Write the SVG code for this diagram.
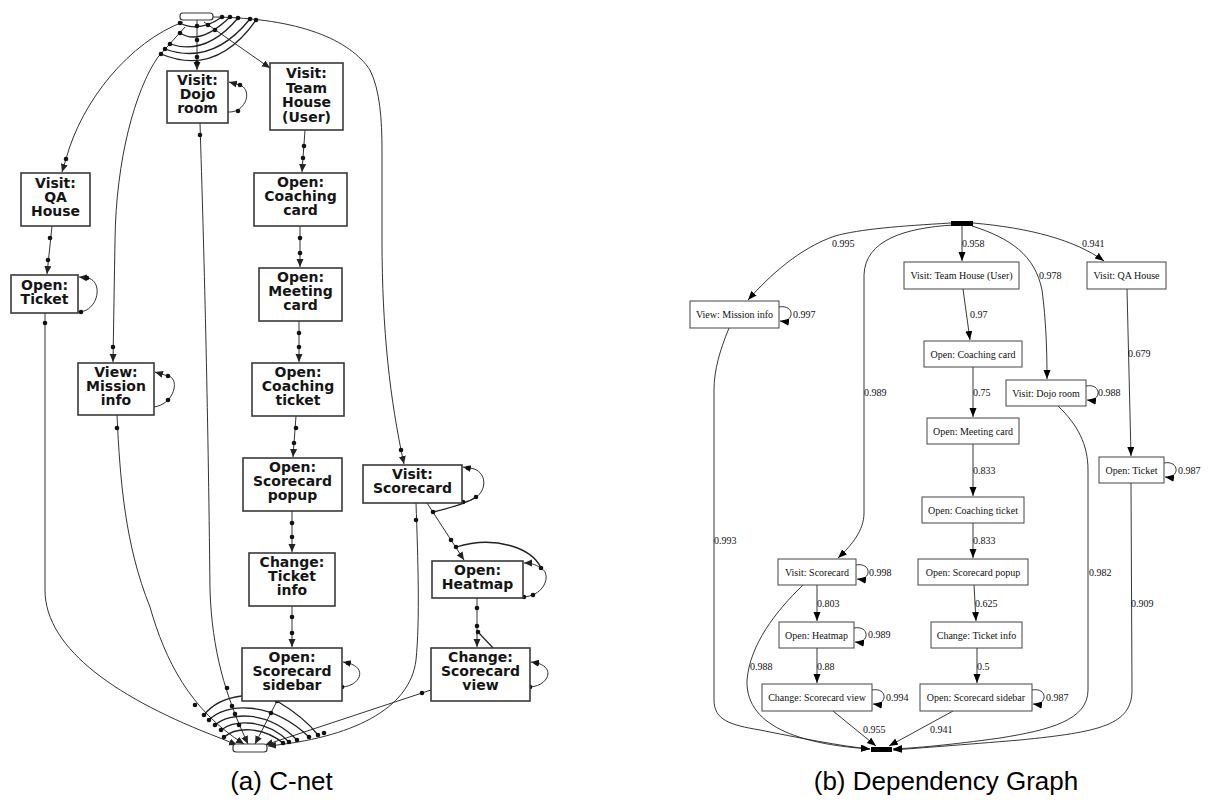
<svg xmlns="http://www.w3.org/2000/svg" width="1208" height="802" viewBox="0 0 1208 802">
  <defs>
    <style>
      .cn rect { fill: #fff; stroke: #3a3a3a; stroke-width: 1.6; }
      .cnt { font-family: "DejaVu Sans", "Verdana", sans-serif; font-weight: bold; font-size: 14px; text-anchor: middle; fill: #151515; }
      .ce { fill: none; stroke: #333; stroke-width: 1; }
      .cb { fill: none; stroke: #222; stroke-width: 1.3; }
      .dot { fill: #111; }
      .dg rect { fill: #fff; stroke: #444; stroke-width: 1; }
      .dgt { font-family: "Liberation Serif", "Times New Roman", serif; font-size: 10px; text-anchor: middle; fill: #111; }
      .dl { font-family: "Liberation Serif", "Times New Roman", serif; font-size: 10px; fill: #111; }
      .de { fill: none; stroke: #222; stroke-width: 0.9; }
      .cap { font-family: "Liberation Sans", Arial, sans-serif; font-size: 26px; text-anchor: middle; fill: #000; }
    </style>
    <marker id="ahC" markerUnits="userSpaceOnUse" markerWidth="9" markerHeight="8" refX="8" refY="3.5" orient="auto">
      <path d="M0,0 L8,3.5 L0,7 z" fill="#222"/>
    </marker>
    <marker id="ahD" markerUnits="userSpaceOnUse" markerWidth="10" markerHeight="8" refX="9" refY="3.5" orient="auto">
      <path d="M0,0 L9,3.5 L0,7 z" fill="#000"/>
    </marker>
  </defs>
  <rect width="1208" height="802" fill="#fff"/>

  <!-- ===================== C-net ===================== -->
  <g id="cnet-connectors">
    <!-- edges leaving the start place -->
    <path class="ce" d="M183,22 C130,42 82,100 66,159 L62,172" marker-end="url(#ahC)"/>
    <path class="ce" d="M185,27 L158,57 C135,90 116,160 115,240 L113,362" marker-end="url(#ahC)"/>
    <path class="ce" d="M197,20 L197,70" marker-end="url(#ahC)"/>
    <path class="ce" d="M204,22 L270,68" marker-end="url(#ahC)"/>
    <path class="ce" d="M213,17 C300,18 350,40 370,70 C380,90 382,120 382,150 L382,240 C382,330 390,400 404,464" marker-end="url(#ahC)"/>
    <!-- output bindings of the start place -->
    <path class="cb" d="M180,23 Q199,33 222,17"/>
    <path class="cb" d="M180,33 Q200,46 230,17"/>
    <path class="cb" d="M170,44 Q206,56 238,18"/>
    <path class="cb" d="M165,49 Q212,66 250,19"/>
    <path class="cb" d="M161,54 Q216,77 256,20"/>

    <!-- sequential chain -->
    <path class="ce" d="M305,130 L302,172" marker-end="url(#ahC)"/>
    <path class="ce" d="M300,226 L300,267" marker-end="url(#ahC)"/>
    <path class="ce" d="M299,321 L299,362" marker-end="url(#ahC)"/>
    <path class="ce" d="M296,416 L293,457" marker-end="url(#ahC)"/>
    <path class="ce" d="M292,511 L292,552" marker-end="url(#ahC)"/>
    <path class="ce" d="M292,606 L292,647" marker-end="url(#ahC)"/>
    <path class="ce" d="M52,226 L47,274" marker-end="url(#ahC)"/>
    <path class="ce" d="M427,503 L464,560" marker-end="url(#ahC)"/>
    <path class="ce" d="M477,598 L477,647" marker-end="url(#ahC)"/>
    <path class="cb" d="M433,512 C450,508 468,503 476,497"/>
    <path class="cb" d="M456,547 C495,535 532,548 541,568"/>
    <path class="cb" d="M478,632 L530,687"/>

    <!-- self loops -->
    <path class="ce" d="M228,112 C246,113 253,90 240,85 L229,82" marker-end="url(#ahC)"/>
    <path class="ce" d="M78,312 C98,312 104,282 88,278 L79,277" marker-end="url(#ahC)"/>
    <path class="ce" d="M154,407 C175,404 180,378 168,376 L155,372" marker-end="url(#ahC)"/>
    <path class="ce" d="M462,502 C490,500 490,468 468,468 L463,467" marker-end="url(#ahC)"/>
    <path class="ce" d="M523,597 C545,596 552,574 541,568 C535,564 530,563 524,563" marker-end="url(#ahC)"/>
    <path class="ce" d="M342,687 C360,686 368,668 348,663 L343,662" marker-end="url(#ahC)"/>
    <path class="ce" d="M530,687 C548,686 556,668 537,663 L531,662" marker-end="url(#ahC)"/>

    <!-- edges into the end place -->
    <path class="ce" d="M45,313 L45,590 C45,650 120,700 220,738 L237,745" marker-end="url(#ahC)"/>
    <path class="ce" d="M117,415 C120,480 125,545 150,607 C165,660 190,710 244,744" marker-end="url(#ahC)"/>
    <path class="ce" d="M200,123 C204,250 208,400 210,590 C212,650 225,695 248,744" marker-end="url(#ahC)"/>
    <path class="ce" d="M277,701 L255,744" marker-end="url(#ahC)"/>
    <path class="ce" d="M416,503 C418,560 420,620 416,660 C410,710 350,738 268,746" marker-end="url(#ahC)"/>
    <path class="ce" d="M431,690 L265,745" marker-end="url(#ahC)"/>
    <!-- input bindings of the end place -->
    <path class="cb" d="M204,715 C222,692 262,692 277,701 C292,710 308,722 318,735"/>
    <path class="cb" d="M209,720 C225,703 270,700 309,737"/>
    <path class="cb" d="M215,725 C230,712 268,710 297,740"/>
    <path class="cb" d="M221,730 C234,720 266,718 289,742"/>
    <path class="cb" d="M224,737 C236,727 262,726 283,743"/>

    <!-- binding dots -->
    <g class="dot">
      <circle cx="180" cy="23" r="2.3"/><circle cx="180" cy="33" r="2.3"/><circle cx="170" cy="44" r="2.3"/>
      <circle cx="165" cy="49" r="2.3"/><circle cx="161" cy="54" r="2.3"/>
      <circle cx="222" cy="17" r="2.3"/><circle cx="230" cy="17" r="2.3"/><circle cx="238" cy="18" r="2.3"/>
      <circle cx="250" cy="19" r="2.3"/><circle cx="256" cy="20" r="2.3"/>
      <circle cx="197" cy="26" r="2.3"/><circle cx="197" cy="40" r="2.3"/><circle cx="197" cy="57" r="2.3"/><circle cx="197" cy="63" r="2.3"/>
      <circle cx="208" cy="25" r="2.3"/><circle cx="215" cy="30" r="2.3"/>
      <circle cx="66" cy="159" r="2.3"/><circle cx="113" cy="347" r="2.3"/><circle cx="401" cy="450" r="2.3"/>
      <circle cx="200" cy="135" r="2.3"/><circle cx="45" cy="323" r="2.3"/><circle cx="117" cy="428" r="2.3"/><circle cx="416" cy="520" r="2.3"/>
      <circle cx="304" cy="146" r="2.3"/><circle cx="303" cy="158" r="2.3"/>
      <circle cx="300" cy="238" r="2.3"/><circle cx="300" cy="253" r="2.3"/>
      <circle cx="299" cy="333" r="2.3"/><circle cx="299" cy="347" r="2.3"/>
      <circle cx="296" cy="428" r="2.3"/><circle cx="294" cy="443" r="2.3"/>
      <circle cx="292" cy="523" r="2.3"/><circle cx="292" cy="537" r="2.3"/>
      <circle cx="292" cy="617" r="2.3"/><circle cx="292" cy="633" r="2.3"/>
      <circle cx="50" cy="238" r="2.3"/><circle cx="48" cy="260" r="2.3"/>
      <circle cx="433" cy="512" r="2.3"/><circle cx="451" cy="540" r="2.3"/><circle cx="456" cy="547" r="2.3"/>
      <circle cx="477" cy="608" r="2.3"/><circle cx="477" cy="626" r="2.3"/><circle cx="478" cy="632" r="2.3"/>
      <circle cx="238" cy="111" r="2.3"/><circle cx="240" cy="85" r="2.3"/>
      <circle cx="87" cy="278" r="2.3"/><circle cx="81" cy="312" r="2.3"/>
      <circle cx="168" cy="376" r="2.3"/><circle cx="168" cy="400" r="2.3"/>
      <circle cx="468" cy="468" r="2.3"/><circle cx="476" cy="497" r="2.3"/><circle cx="463" cy="502" r="2.3"/>
      <circle cx="541" cy="568" r="2.3"/><circle cx="533" cy="595" r="2.3"/><circle cx="524" cy="597" r="2.3"/>
      <circle cx="348" cy="663" r="2.3"/><circle cx="342" cy="687" r="2.3"/>
      <circle cx="537" cy="663" r="2.3"/><circle cx="530" cy="687" r="2.3"/>
      <circle cx="422" cy="693" r="2.3"/>
      <circle cx="204" cy="715" r="2.3"/><circle cx="209" cy="720" r="2.3"/><circle cx="215" cy="725" r="2.3"/>
      <circle cx="221" cy="730" r="2.3"/><circle cx="224" cy="737" r="2.3"/><circle cx="195" cy="705" r="2.3"/>
      <circle cx="227" cy="688" r="2.3"/><circle cx="232" cy="706" r="2.3"/><circle cx="235" cy="714" r="2.3"/><circle cx="239" cy="725" r="2.3"/>
      <circle cx="277" cy="701" r="2.3"/><circle cx="271" cy="713" r="2.3"/>
      <circle cx="283" cy="743" r="2.3"/><circle cx="289" cy="742" r="2.3"/><circle cx="297" cy="740" r="2.3"/>
      <circle cx="309" cy="737" r="2.3"/><circle cx="318" cy="735" r="2.3"/><circle cx="324" cy="733" r="2.3"/>
    </g>
  </g>

  <g id="cnet-start" class="cn"><rect x="180" y="13" width="33" height="7" rx="3" style="stroke-width:1.2"/></g>
  <g id="cnet-end" class="cn"><rect x="233" y="744" width="34" height="8" rx="3" style="stroke-width:1.2"/></g>

  <g id="cnet-dojo" class="cn"><rect x="167" y="71" width="61" height="52"/>
    <text class="cnt" x="197.5" y="85">Visit:</text><text class="cnt" x="197.5" y="99">Dojo</text><text class="cnt" x="197.5" y="113">room</text></g>
  <g id="cnet-team-house" class="cn"><rect x="270" y="63" width="73" height="67"/>
    <text class="cnt" x="306.5" y="78">Visit:</text><text class="cnt" x="306.5" y="92.5">Team</text><text class="cnt" x="306.5" y="107">House</text><text class="cnt" x="306.5" y="121.5">(User)</text></g>
  <g id="cnet-qa-house" class="cn"><rect x="21" y="173" width="69" height="53"/>
    <text class="cnt" x="55.5" y="188">Visit:</text><text class="cnt" x="55.5" y="202">QA</text><text class="cnt" x="55.5" y="216">House</text></g>
  <g id="cnet-coaching-card" class="cn"><rect x="254" y="173" width="93" height="53"/>
    <text class="cnt" x="300.5" y="187">Open:</text><text class="cnt" x="300.5" y="201">Coaching</text><text class="cnt" x="300.5" y="215">card</text></g>
  <g id="cnet-ticket" class="cn"><rect x="11" y="275" width="67" height="38"/>
    <text class="cnt" x="44.5" y="290">Open:</text><text class="cnt" x="44.5" y="304">Ticket</text></g>
  <g id="cnet-meeting-card" class="cn"><rect x="259" y="268" width="83" height="53"/>
    <text class="cnt" x="300.5" y="282">Open:</text><text class="cnt" x="300.5" y="296">Meeting</text><text class="cnt" x="300.5" y="310">card</text></g>
  <g id="cnet-mission-info" class="cn"><rect x="78" y="363" width="76" height="52"/>
    <text class="cnt" x="116" y="377">View:</text><text class="cnt" x="116" y="391">Mission</text><text class="cnt" x="116" y="405">info</text></g>
  <g id="cnet-coaching-ticket" class="cn"><rect x="252" y="363" width="92" height="53"/>
    <text class="cnt" x="298" y="377">Open:</text><text class="cnt" x="298" y="391">Coaching</text><text class="cnt" x="298" y="405">ticket</text></g>
  <g id="cnet-scorecard-popup" class="cn"><rect x="243" y="458" width="99" height="53"/>
    <text class="cnt" x="292.5" y="472">Open:</text><text class="cnt" x="292.5" y="486">Scorecard</text><text class="cnt" x="292.5" y="500">popup</text></g>
  <g id="cnet-scorecard" class="cn"><rect x="363" y="465" width="99" height="38"/>
    <text class="cnt" x="412.5" y="479">Visit:</text><text class="cnt" x="412.5" y="493">Scorecard</text></g>
  <g id="cnet-heatmap" class="cn"><rect x="432" y="561" width="91" height="37"/>
    <text class="cnt" x="477.5" y="575">Open:</text><text class="cnt" x="477.5" y="589">Heatmap</text></g>
  <g id="cnet-ticket-info" class="cn"><rect x="249" y="553" width="86" height="53"/>
    <text class="cnt" x="292" y="567">Change:</text><text class="cnt" x="292" y="581">Ticket</text><text class="cnt" x="292" y="595">info</text></g>
  <g id="cnet-scorecard-sidebar" class="cn"><rect x="242" y="648" width="100" height="53"/>
    <text class="cnt" x="292" y="662">Open:</text><text class="cnt" x="292" y="676">Scorecard</text><text class="cnt" x="292" y="690">sidebar</text></g>
  <g id="cnet-scorecard-view" class="cn"><rect x="431" y="648" width="99" height="53"/>
    <text class="cnt" x="480.5" y="662">Change:</text><text class="cnt" x="480.5" y="676">Scorecard</text><text class="cnt" x="480.5" y="690">view</text></g>

  <!-- ===================== Dependency graph ===================== -->
  <g id="dep-connectors">
    <path class="de" d="M951,223 C900,226 860,229 835,236 C800,248 770,275 748,300" marker-end="url(#ahD)"/>
    <path class="de" d="M953,225 C905,228 865,240 864,275 L864,513 C864,530 852,545 838,558" marker-end="url(#ahD)"/>
    <path class="de" d="M962,226 L962,261" marker-end="url(#ahD)"/>
    <path class="de" d="M972,226 C1010,238 1035,255 1042,290 C1046,320 1047,350 1047,379" marker-end="url(#ahD)"/>
    <path class="de" d="M973,223 C1030,228 1075,240 1104,261" marker-end="url(#ahD)"/>
    <path class="de" d="M963,289 L970,340" marker-end="url(#ahD)"/>
    <path class="de" d="M973,367 L973,417" marker-end="url(#ahD)"/>
    <path class="de" d="M973,444 L973,496" marker-end="url(#ahD)"/>
    <path class="de" d="M973,523 L973,558" marker-end="url(#ahD)"/>
    <path class="de" d="M974,585 L976,621" marker-end="url(#ahD)"/>
    <path class="de" d="M977,648 L977,683" marker-end="url(#ahD)"/>
    <path class="de" d="M1127,289 L1131,456" marker-end="url(#ahD)"/>
    <path class="de" d="M817,585 L817,621" marker-end="url(#ahD)"/>
    <path class="de" d="M817,648 L817,683" marker-end="url(#ahD)"/>
    <path class="de" d="M1131,483 L1132,690 C1132,725 1100,732 1020,740 C960,745 920,748 893,750" marker-end="url(#ahD)"/>
    <path class="de" d="M1058,406 C1078,425 1088,445 1088,470 L1088,690 C1088,720 1050,730 1000,738 C950,745 915,748 893,749" marker-end="url(#ahD)"/>
    <path class="de" d="M729,328 C720,350 714,370 714,390 L714,700 C714,720 730,725 760,730 C800,738 840,746 870,749" marker-end="url(#ahD)"/>
    <path class="de" d="M803,585 C775,612 750,645 747,680 C745,730 810,745 870,749" marker-end="url(#ahD)"/>
    <path class="de" d="M833,711 L876,746" marker-end="url(#ahD)"/>
    <path class="de" d="M953,711 L889,746" marker-end="url(#ahD)"/>
    <!-- self loops -->
    <path class="de" d="M779,307 C795,304 795,323 780,321" marker-end="url(#ahD)"/>
    <path class="de" d="M1086,386 C1102,383 1102,402 1087,400" marker-end="url(#ahD)"/>
    <path class="de" d="M1164,463 C1180,460 1180,479 1165,477" marker-end="url(#ahD)"/>
    <path class="de" d="M856,565 C872,562 872,581 857,579" marker-end="url(#ahD)"/>
    <path class="de" d="M854,628 C870,625 870,644 855,642" marker-end="url(#ahD)"/>
    <path class="de" d="M872,690 C888,687 888,706 873,704" marker-end="url(#ahD)"/>
    <path class="de" d="M1032,690 C1048,687 1048,706 1033,704" marker-end="url(#ahD)"/>
    <!-- edge labels -->
    <text class="dl" x="832" y="247">0.995</text>
    <text class="dl" x="793" y="318">0.997</text>
    <text class="dl" x="864" y="396">0.989</text>
    <text class="dl" x="962" y="247">0.958</text>
    <text class="dl" x="1082" y="247">0.941</text>
    <text class="dl" x="1039" y="279">0.978</text>
    <text class="dl" x="970" y="318">0.97</text>
    <text class="dl" x="1128" y="357">0.679</text>
    <text class="dl" x="973" y="396">0.75</text>
    <text class="dl" x="1098" y="396">0.988</text>
    <text class="dl" x="973" y="474">0.833</text>
    <text class="dl" x="1178" y="474">0.987</text>
    <text class="dl" x="973" y="544">0.833</text>
    <text class="dl" x="714" y="544">0.993</text>
    <text class="dl" x="869" y="576">0.998</text>
    <text class="dl" x="1089" y="576">0.982</text>
    <text class="dl" x="817" y="607">0.803</text>
    <text class="dl" x="975" y="607">0.625</text>
    <text class="dl" x="1131" y="607">0.909</text>
    <text class="dl" x="868" y="638">0.989</text>
    <text class="dl" x="750" y="670">0.988</text>
    <text class="dl" x="817" y="670">0.88</text>
    <text class="dl" x="977" y="670">0.5</text>
    <text class="dl" x="886" y="701">0.994</text>
    <text class="dl" x="1046" y="701">0.987</text>
    <text class="dl" x="863" y="733">0.955</text>
    <text class="dl" x="930" y="733">0.941</text>
  </g>

  <g id="dep-start"><rect x="951" y="221" width="22" height="5" fill="#000"/></g>
  <g id="dep-end"><rect x="871" y="747" width="21" height="5" fill="#000"/></g>
  <g id="dep-team-house" class="dg"><rect x="904" y="262" width="115" height="27"/><text class="dgt" x="961.5" y="279">Visit: Team House (User)</text></g>
  <g id="dep-qa-house" class="dg"><rect x="1087" y="262" width="79" height="27"/><text class="dgt" x="1126.5" y="279">Visit: QA House</text></g>
  <g id="dep-coaching-card" class="dg"><rect x="924" y="341" width="98" height="26"/><text class="dgt" x="973" y="357.5">Open: Coaching card</text></g>
  <g id="dep-dojo" class="dg"><rect x="1006" y="380" width="80" height="26"/><text class="dgt" x="1046" y="396.5">Visit: Dojo room</text></g>
  <g id="dep-meeting-card" class="dg"><rect x="927" y="418" width="92" height="26"/><text class="dgt" x="973" y="434.5">Open: Meeting card</text></g>
  <g id="dep-mission-info" class="dg"><rect x="690" y="301" width="89" height="27"/><text class="dgt" x="734.5" y="318">View: Mission info</text></g>
  <g id="dep-ticket" class="dg"><rect x="1099" y="457" width="65" height="26"/><text class="dgt" x="1131.5" y="473.5">Open: Ticket</text></g>
  <g id="dep-coaching-ticket" class="dg"><rect x="922" y="497" width="102" height="26"/><text class="dgt" x="973" y="513.5">Open: Coaching ticket</text></g>
  <g id="dep-scorecard-popup" class="dg"><rect x="918" y="559" width="110" height="26"/><text class="dgt" x="973" y="575.5">Open: Scorecard popup</text></g>
  <g id="dep-scorecard" class="dg"><rect x="778" y="559" width="78" height="26"/><text class="dgt" x="817" y="575.5">Visit: Scorecard</text></g>
  <g id="dep-heatmap" class="dg"><rect x="779" y="622" width="75" height="26"/><text class="dgt" x="816.5" y="638.5">Open: Heatmap</text></g>
  <g id="dep-ticket-info" class="dg"><rect x="931" y="622" width="91" height="26"/><text class="dgt" x="976.5" y="638.5">Change: Ticket info</text></g>
  <g id="dep-scorecard-view" class="dg"><rect x="762" y="684" width="110" height="27"/><text class="dgt" x="817" y="701">Change: Scorecard view</text></g>
  <g id="dep-scorecard-sidebar" class="dg"><rect x="920" y="684" width="112" height="27"/><text class="dgt" x="976" y="701">Open: Scorecard sidebar</text></g>

  <!-- captions -->
  <text class="cap" x="281.5" y="790">(a) C-net</text>
  <text class="cap" x="946" y="790">(b) Dependency Graph</text>
</svg>
